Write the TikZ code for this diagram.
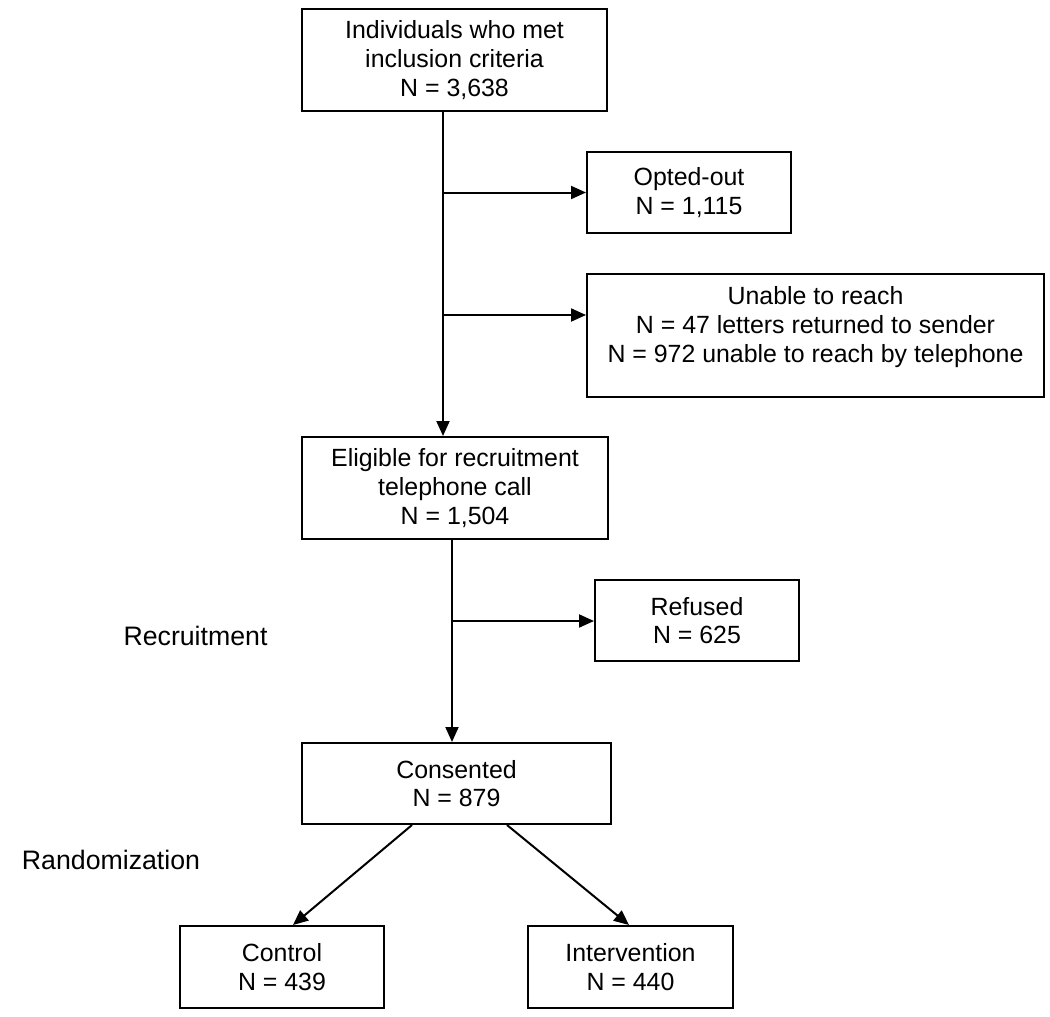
\documentclass[tikz,border=0pt]{standalone}
\usepackage{fontspec}
\setmainfont{Liberation Sans}
\usetikzlibrary{arrows.meta,calc}
\begin{document}
\begin{tikzpicture}[x=1pt,y=-1pt,
  box/.style={draw,line width=2pt,align=center,inner sep=0pt,font=\fontsize{24.9}{28.8}\selectfont},
  txt/.style={align=center,inner sep=0pt,font=\fontsize{24.9}{28.8}\selectfont},
  arr/.style={line width=2pt,-{Triangle[length=15pt,width=13pt]}},
  lab/.style={font=\fontsize{26.7}{30}\selectfont,inner sep=0pt}]
\useasboundingbox[fill=white] (0,0) rectangle (1050,1017);
% boxes
\node[box,minimum width=305pt,minimum height=102pt] (incl) at (454.5,60) {Individuals who met\\inclusion criteria\\N = 3,638};
\node[box,minimum width=204pt,minimum height=81pt] (opted) at (689,192.5) {Opted-out\\N = 1,115};
\node[box,minimum width=457pt,minimum height=123pt] (unable) at (815.5,335.5) {};
\node[txt] (unabletxt) at (815.5,327) {Unable to reach\\N = 47 letters returned to sender\\N = 972 unable to reach by telephone};
\node[box,minimum width=306pt,minimum height=102pt] (elig) at (455,488) {Eligible for recruitment\\telephone call\\N = 1,504};
\node[box,minimum width=204pt,minimum height=81pt] (refused) at (697,620.5) {Refused\\N = 625};
\node[box,minimum width=309pt,minimum height=81pt] (consent) at (456.5,783.5) {Consented\\N = 879};
\node[box,minimum width=204pt,minimum height=82pt] (control) at (282,967) {Control\\N = 439};
\node[box,minimum width=205pt,minimum height=82pt] (interv) at (630.5,967) {Intervention\\N = 440};
% side labels
\node[lab] (lrec) at (195.5,636) {Recruitment};
\node[lab] (lrand) at (111,860) {Randomization};
% connectors
\coordinate (c1) at (443,315);
\coordinate (c2) at (452,621);
\draw[arr] (incl.south -| c1) -- (elig.north -| c1);
\draw[arr] (c1 |- opted.west) -- (opted.west);
\draw[arr] (c1) -- (c1 -| unable.west);
\draw[arr] (elig.south -| c2) -- (consent.north -| c2);
\draw[arr] (c2) -- (c2 -| refused.west);
\draw[arr] ([xshift=-44.5pt]consent.south) -- ([xshift=11pt]control.north);
\draw[arr] ([xshift=50.5pt]consent.south) -- ([xshift=-1.5pt]interv.north);
\end{tikzpicture}
\end{document}
